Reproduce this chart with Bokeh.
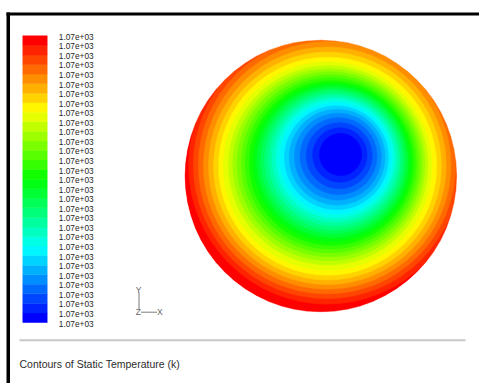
import colorsys
from bokeh.plotting import figure
from bokeh.models import Range1d, ColumnDataSource, BoxAnnotation
from bokeh.core.properties import value
from bokeh.embed import file_html
from bokeh.resources import INLINE

# ---------------- data ----------------
# contour levels of static temperature (K); all print as 1.07e+03
levels = [1069.55, 1069.60, 1069.65, 1069.70, 1069.75, 1069.80, 1069.85,
          1069.90, 1069.95, 1070.00, 1070.05, 1070.10, 1070.15, 1070.20,
          1070.25, 1070.30, 1070.35, 1070.40, 1070.45, 1070.50, 1070.55,
          1070.60, 1070.65, 1070.70, 1070.75, 1070.80, 1070.85, 1070.90,
          1070.95, 1071.00, 1071.05]

# iso-temperature boundaries in the cross-section (normalised by pipe radius):
# region with T below levels[i+1] is the disc (band_cx[i], band_cy[i], band_r[i])
band_r = [0.155, 0.200, 0.243, 0.283, 0.319, 0.352, 0.382, 0.410, 0.435, 0.459,
          0.483, 0.507, 0.531, 0.555, 0.579, 0.603, 0.628, 0.653, 0.679, 0.705,
          0.732, 0.765, 0.800, 0.836, 0.872, 0.908, 0.944, 0.980, 1.015, 1.000]
band_cx = [0.145, 0.140, 0.135, 0.130, 0.125, 0.120, 0.115, 0.110, 0.106, 0.102,
           0.098, 0.094, 0.090, 0.086, 0.082, 0.077, 0.073, 0.069, 0.064, 0.059,
           0.055, 0.050, 0.050, 0.049, 0.048, 0.047, 0.046, 0.045, 0.045, 0.000]
band_cy = [0.158, 0.154, 0.150, 0.146, 0.142, 0.138, 0.134, 0.130, 0.126, 0.122,
           0.117, 0.113, 0.109, 0.104, 0.100, 0.095, 0.092, 0.089, 0.086, 0.082,
           0.079, 0.073, 0.072, 0.073, 0.075, 0.078, 0.079, 0.080, 0.075, 0.000]
pipe_radius = 1.0

title_text = "Contours of Static Temperature (k)"
triad_labels = ["Y", "Z", "X"]

# ---------------- style / layout ----------------
n_bands = len(levels) - 1
palette = []
for j in range(n_bands):
    h = 240.0 * (1 - j / (n_bands - 1)) / 360.0
    r, g, b = colorsys.hsv_to_rgb(h, 1, 1)
    palette.append("#%02x%02x%02x" % (round(r * 255), round(g * 255), round(b * 255)))

W, H = 479, 383
CX_PAGE, CY_PAGE = 320.3, 175.5   # pipe centre on page (px)
S = 136.3                         # px per unit radius
BAR_TOP, BAR_BOT = 35.3, 322.0
BAR_L, BAR_R = 22.3, 46.7
LAB_X = 58.3
FONT = value("Liberation Sans")

x_range = Range1d(-CX_PAGE / S, (W - CX_PAGE) / S)
y_range = Range1d(-(H - CY_PAGE) / S, CY_PAGE / S)

p = figure(width=W, height=H, x_range=x_range, y_range=y_range,
           x_axis_type=None, y_axis_type=None, min_border=0,
           output_backend="svg", toolbar_location=None)
p.outline_line_color = None
p.background_fill_color = "white"
p.border_fill_color = "white"

k = (levels[-1] - levels[0]) / (BAR_BOT - BAR_TOP)
p.extra_x_ranges = {"px": Range1d(0, W)}
p.extra_y_ranges = {
    "py": Range1d(H, 0),
    "leg": Range1d(levels[0] - (H - BAR_BOT) * k, levels[-1] + BAR_TOP * k),
}

# ---------------- contour field ----------------
order = list(range(n_bands))[::-1]
field = ColumnDataSource(dict(
    x=[band_cx[i] for i in order],
    y=[band_cy[i] for i in order],
    w=[2 * band_r[i] for i in order],
    c=[palette[i] for i in order],
))
p.ellipse(x="x", y="y", width="w", height="w", source=field,
          fill_color="c", line_color="c", line_width=0.5)
# clip to the pipe wall
p.annulus(x=[0], y=[0], inner_radius=pipe_radius, outer_radius=pipe_radius * 6,
          fill_color="white", line_color="white", line_width=0.5)

# ---------------- legend ----------------
leg = ColumnDataSource(dict(
    bottom=levels[:-1], top=levels[1:],
    left=[BAR_L] * n_bands, right=[BAR_R] * n_bands, c=palette,
))
p.quad(left="left", right="right", bottom="bottom", top="top", source=leg,
       fill_color="c", line_color="c", line_width=0.5,
       x_range_name="px", y_range_name="leg")

lab = ColumnDataSource(dict(
    x=[LAB_X] * len(levels), y=levels, t=["%.2e" % v for v in levels],
))
p.text(x="x", y="y", text="t", source=lab, x_range_name="px", y_range_name="leg",
       text_font=FONT, text_font_size="8.3px", text_baseline="middle",
       text_align="left", text_color="#262626", y_offset=1)

# ---------------- axis triad ----------------
p.segment(x0=[138.5, 140.5], y0=[292.0, 311.7], x1=[138.5, 156.5], y1=[308.5, 311.7],
          x_range_name="px", y_range_name="py", line_color="#7a7a7a", line_width=1)
p.text(x=[138.0, 137.8, 159.3], y=[289.2, 311.8, 311.8], text=triad_labels,
       x_range_name="px", y_range_name="py", text_font=FONT, text_font_size="8.5px",
       text_align="center", text_baseline="middle", text_color="#666666")

# ---------------- frame & caption ----------------
p.add_layout(BoxAnnotation(left=6, right=W, top=12, bottom=15,
                           x_range_name="px", y_range_name="py",
                           fill_color="black", fill_alpha=1, line_color=None))
p.add_layout(BoxAnnotation(left=6, right=9.5, top=12, bottom=H,
                           x_range_name="px", y_range_name="py",
                           fill_color="black", fill_alpha=1, line_color=None))
p.add_layout(BoxAnnotation(left=19, right=465, top=338.7, bottom=340.7,
                           x_range_name="px", y_range_name="py",
                           fill_color="#c8c8c8", fill_alpha=1, line_color=None))
p.text(x=[19], y=[363], text=[title_text], x_range_name="px", y_range_name="py",
       text_font=FONT, text_font_size="10.5px", text_baseline="middle",
       text_align="left", text_color="#2b2b2b")

open("out.html", "w").write(file_html(p, INLINE))
